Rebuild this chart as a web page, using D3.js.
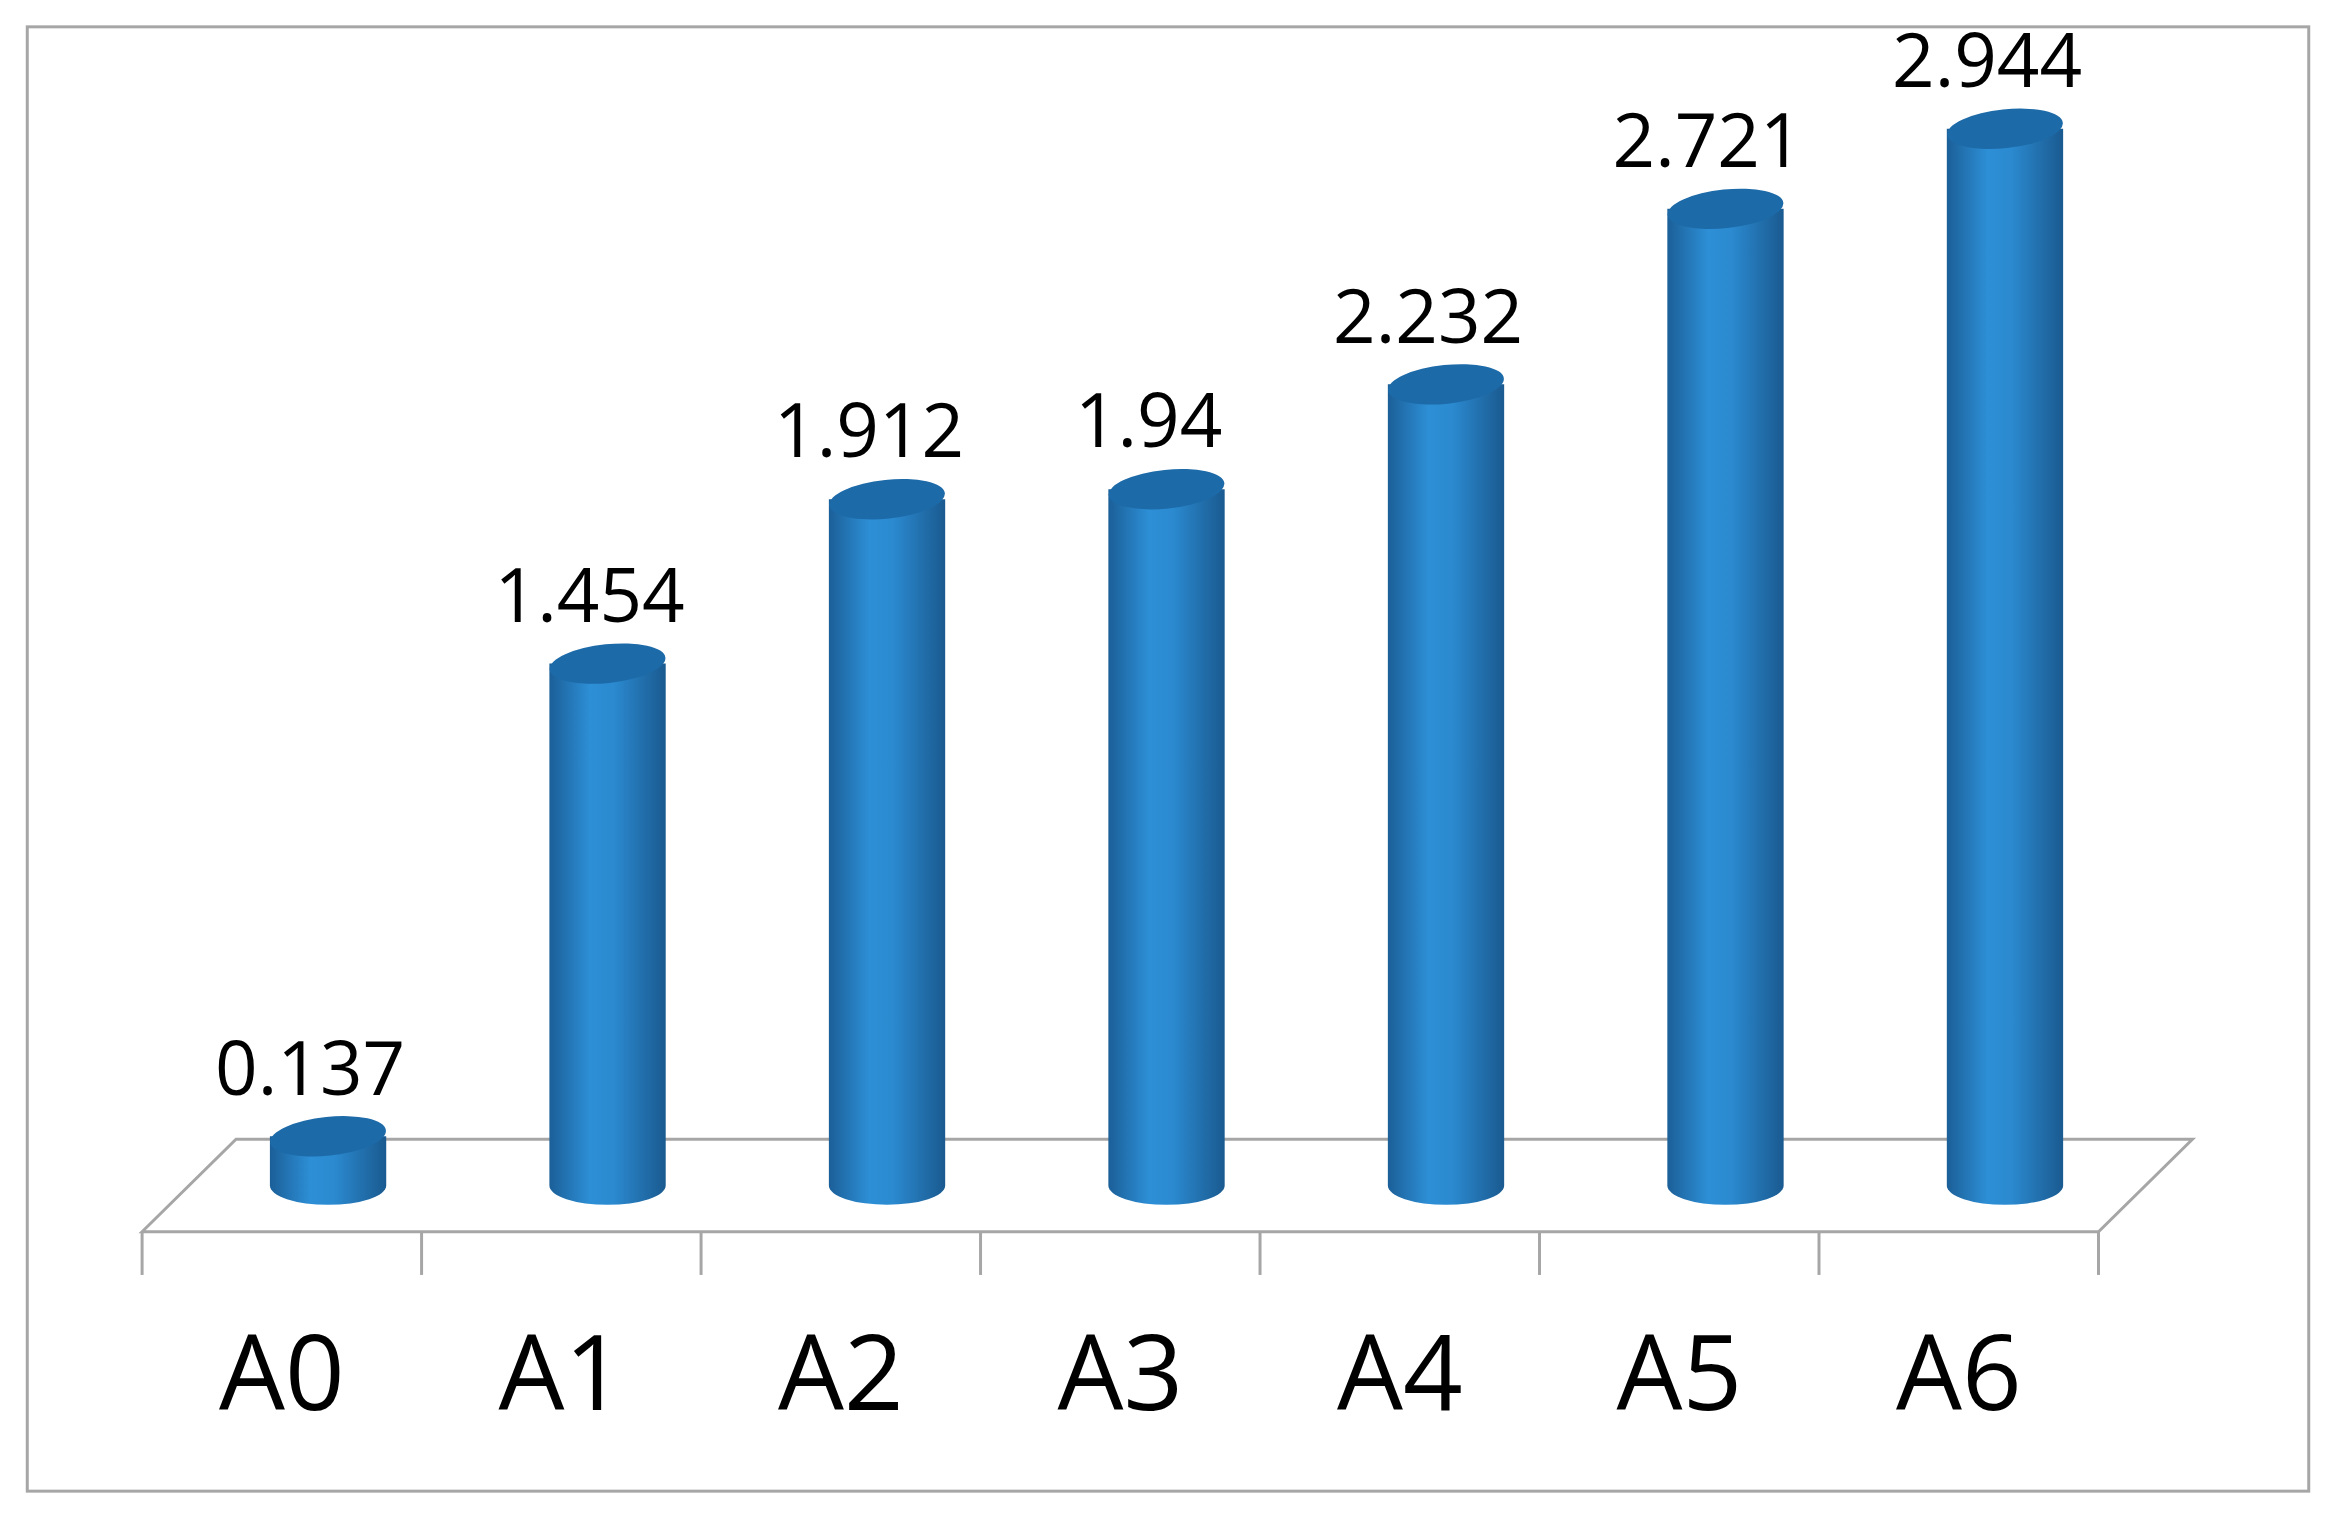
<!DOCTYPE html>
<html><head><meta charset="utf-8">
<script src="https://cdn.jsdelivr.net/npm/d3@7"></script>
<style>body{margin:0;background:#fff}</style>
</head><body>
<svg id="chart"></svg>
<script>
const categories = ["A0", "A1", "A2", "A3", "A4", "A5", "A6"];
const values = [0.137, 1.454, 1.912, 1.94, 2.232, 2.721, 2.944];
const valueLabels = ["0.137", "1.454", "1.912", "1.94", "2.232", "2.721", "2.944"];

// drawn in a 1568x1018 coordinate space, scaled up to the window
const W = 1568, H = 1018;
const svg = d3.select("#chart")
  .attr("width", 2339).attr("height", 1518)
  .attr("viewBox", `0 0 ${W} ${H}`);

const defs = svg.append("defs");
const grad = defs.append("linearGradient").attr("id", "cyl")
  .attr("x1", 0).attr("x2", 1).attr("y1", 0).attr("y2", 0);
grad.append("stop").attr("offset", "0%").attr("stop-color", "#1b5f98");
grad.append("stop").attr("offset", "35%").attr("stop-color", "#2d8fd6");
grad.append("stop").attr("offset", "55%").attr("stop-color", "#2b8ad0");
grad.append("stop").attr("offset", "100%").attr("stop-color", "#1a5a90");

svg.append("rect").attr("x", 18).attr("y", 18).attr("width", 1530).attr("height", 982)
  .attr("fill", "#fff").attr("stroke", "#a6a6a6").attr("stroke-width", 2);

const floorY = 826, depthX = 63, depthY = 62;
const x = d3.scaleBand().domain(categories).range([95, 1407]);
const y = d3.scaleLinear().domain([0, 3]).range([795, 795 - 3 * 240.7]);

// floor parallelogram
svg.append("path")
  .attr("d", `M${x.range()[0]},${floorY} L${x.range()[0] + depthX},${floorY - depthY} L${x.range()[1] + depthX},${floorY - depthY} L${x.range()[1]},${floorY} Z`)
  .attr("fill", "none").attr("stroke", "#a6a6a6").attr("stroke-width", 2);

// category axis with ticks between categories
const axis = svg.append("g").attr("transform", `translate(0,${floorY})`)
  .call(d3.axisBottom(x).tickSize(0).tickPadding(70));
axis.select(".domain").remove();
axis.selectAll("text").style("font-family", "'Open Sans', 'Noto Sans', sans-serif")
  .style("font-size", "70px").attr("fill", "#000");
const bounds = categories.map(c => x(c)).concat([x.range()[1]]);
svg.selectAll(".tk").data(bounds).enter().append("line")
  .attr("x1", d => d).attr("x2", d => d)
  .attr("y1", floorY).attr("y2", floorY + 29)
  .attr("stroke", "#a6a6a6").attr("stroke-width", 2);

const cx = d => x(d) + x.bandwidth() / 2 + 31;
const rx = 39, ry = 13;

const bars = svg.selectAll(".bar").data(categories).enter().append("g");
bars.append("path")
  .attr("d", (d, i) => {
    const c = cx(d), t = y(values[i]), b = y(0);
    return `M${c - rx},${t} L${c - rx},${b} A${rx},${ry} 0 0 0 ${c + rx},${b} L${c + rx},${t} Z`;
  })
  .attr("fill", "url(#cyl)");
bars.append("ellipse")
  .attr("cx", cx).attr("cy", (d, i) => y(values[i]))
  .attr("rx", rx).attr("ry", ry)
  .attr("transform", (d, i) => `rotate(-6 ${cx(d)} ${y(values[i])})`)
  .attr("fill", "#1d6aa8");

bars.append("text")
  .attr("x", d => cx(d) - 12).attr("y", (d, i) => y(values[i]) - 28)
  .attr("text-anchor", "middle")
  .style("font-family", "'Open Sans', 'Noto Sans', sans-serif")
  .style("font-size", "50px").attr("fill", "#000")
  .text((d, i) => valueLabels[i]);
</script>
</body></html>
